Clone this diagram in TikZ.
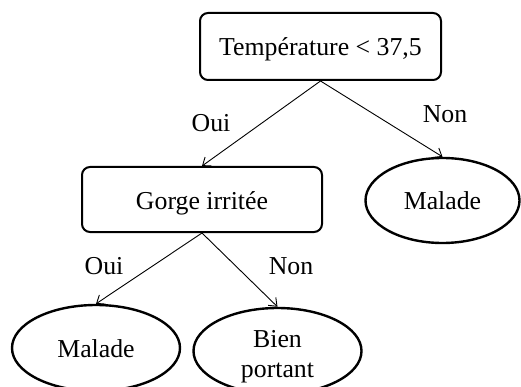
\documentclass[tikz,border=0pt]{standalone}
\usepackage{fontspec}
\setmainfont{Liberation Serif}
\usetikzlibrary{arrows.meta,shapes.geometric}
\begin{document}
\begin{tikzpicture}[x=1pt,y=-1pt,
  every node/.style={font=\fontsize{25.8}{30}\selectfont},
  test/.style={draw, line width=2pt, rounded corners=8pt, inner sep=0pt,
    text height=19pt, text depth=0pt},
  leaf/.style={draw, ellipse, line width=2.4pt, inner sep=0pt,
    minimum width=168pt, minimum height=86pt, text height=19pt, text depth=0pt},
  edge/.style={line width=0.9pt, -{Straight Barb[length=7pt,width=11pt]}},
  answer/.style={anchor=base}]
  \useasboundingbox (0,0) rectangle (521,387);

  % decision nodes
  \node[test, minimum width=241pt, minimum height=67pt] (temp) at (320.5,46.5) {Température < 37,5};
  \node[test, minimum width=240pt, minimum height=65pt] (gorge) at (202,199.5) {Gorge irritée};

  % leaves
  \node[leaf, minimum width=154pt, minimum height=85pt] (m1) at (442.5,200.5) {Malade};
  \node[leaf] (m2) at (96,348) {Malade};
  \node[leaf, align=center, text height=52pt, text depth=0pt] (bp) at (277.5,351) {Bien\\portant};

  % branches
  \draw[edge] (temp.south) -- (gorge.north);
  \draw[edge] (temp.south) -- (m1.north);
  \draw[edge] (gorge.south) -- (m2.north);
  \draw[edge] (gorge.south) -- (bp.north);

  % branch labels
  \node[answer] (o1) at (211,132) {Oui};
  \node[answer] (n1) at (445,123) {Non};
  \node[answer] (o2) at (104,274) {Oui};
  \node[answer] (n2) at (291,274) {Non};
\end{tikzpicture}
\end{document}
